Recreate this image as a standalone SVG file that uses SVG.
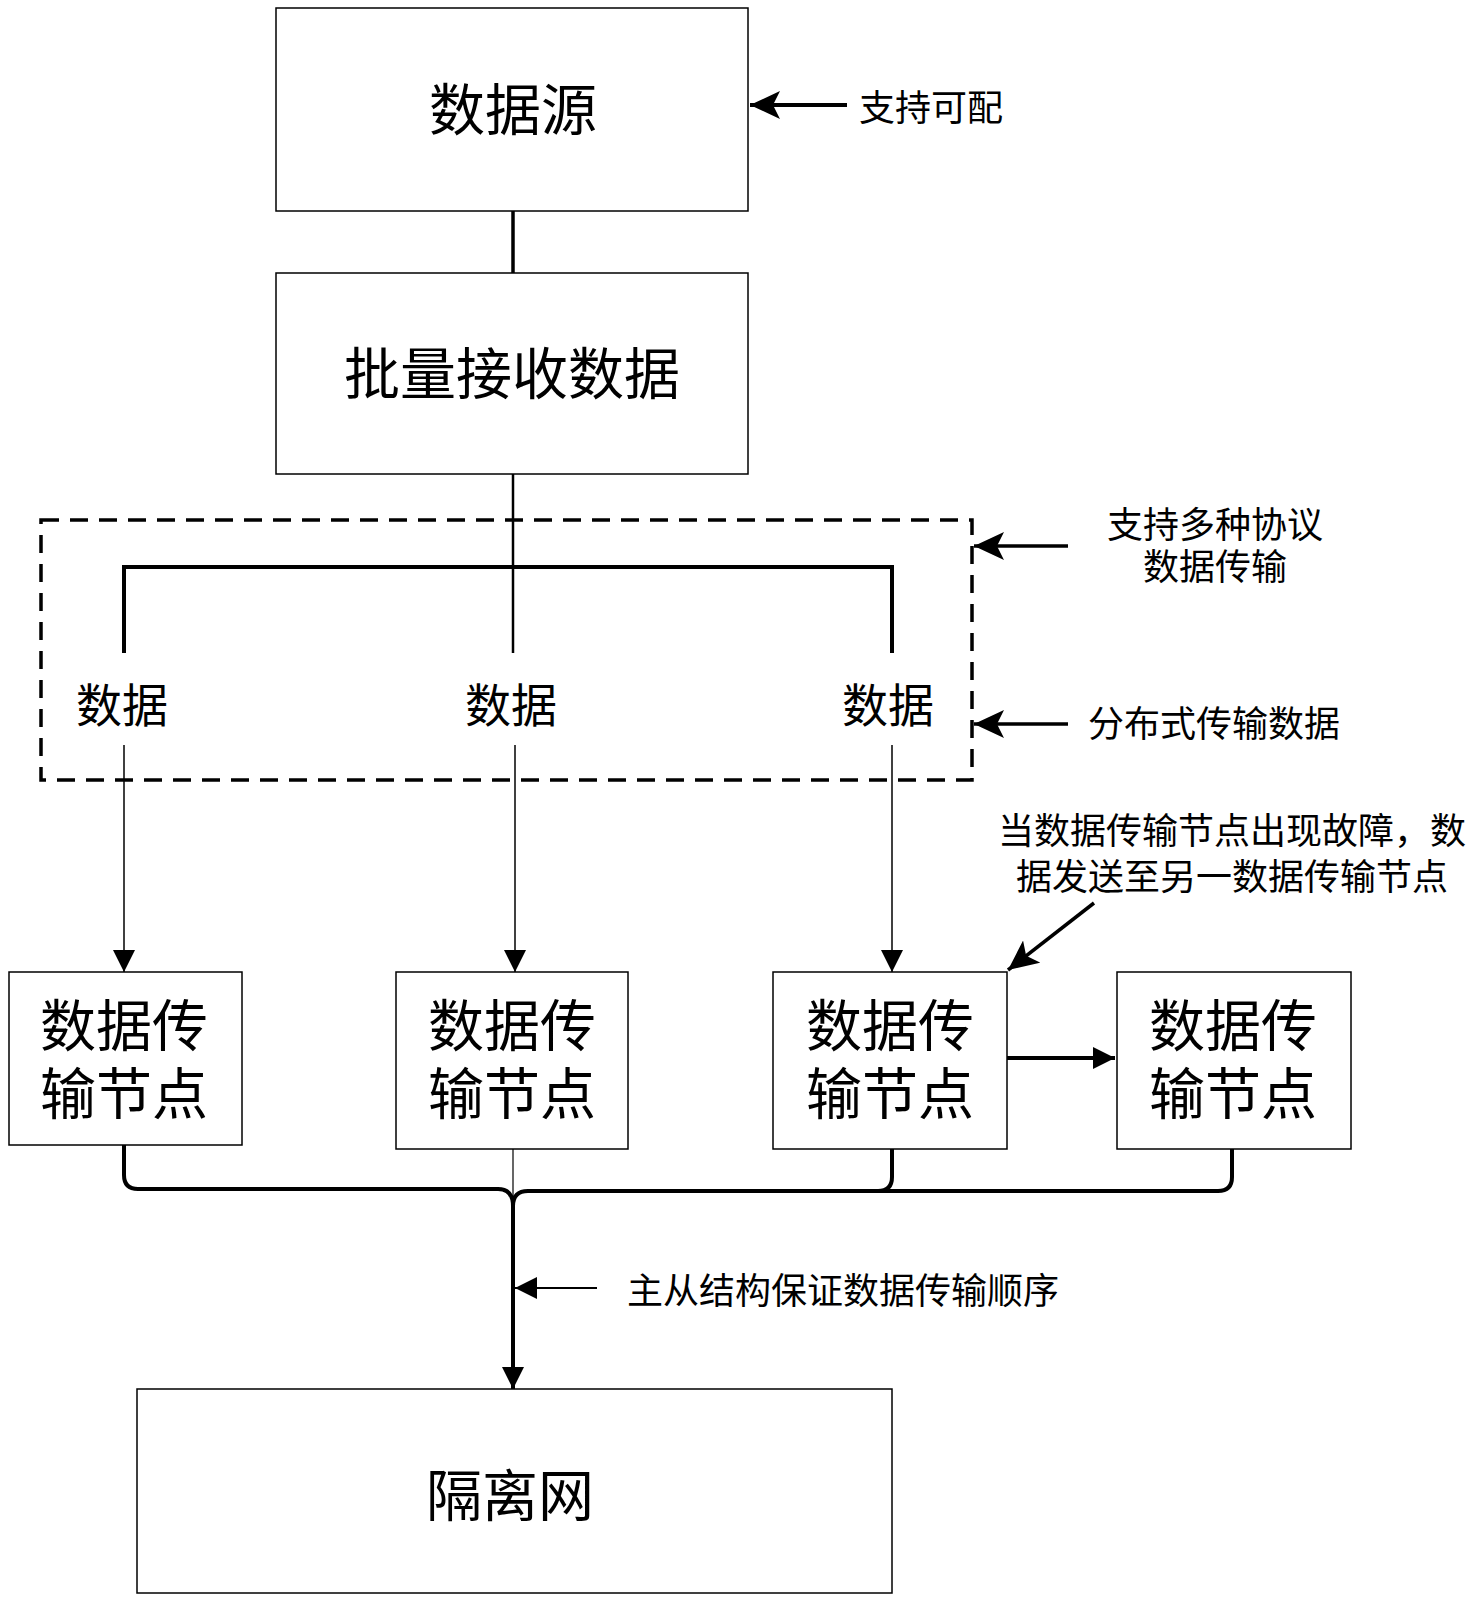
<svg xmlns="http://www.w3.org/2000/svg" width="1480" height="1599" viewBox="0 0 1480 1599">
<style>
.box{fill:#fff;stroke:#000;stroke-width:1.5}
.t{font-family:"Noto Sans CJK SC","Noto Sans CJK JP",sans-serif;fill:#000;text-anchor:middle;dominant-baseline:central}
.big{font-size:56px}
.mid{font-size:46px}
.sm{font-size:36px}
.ln{fill:none;stroke:#000}
</style>
<defs>
<marker id="aTri" markerUnits="userSpaceOnUse" markerWidth="22" markerHeight="22" refX="22" refY="11" viewBox="0 0 22 22" orient="auto"><path d="M0,0 L22,11 L0,22 Z" fill="#000"/></marker>
<marker id="aBig" markerUnits="userSpaceOnUse" markerWidth="30" markerHeight="28" refX="30" refY="14" viewBox="0 0 30 28" orient="auto"><path d="M0,0 L30,14 L0,28 L7,14 Z" fill="#000"/></marker>
</defs>
<rect width="1480" height="1599" fill="#fff"/>

<g id="connectors">
  <line class="ln" x1="513" y1="211" x2="513" y2="273" stroke-width="3.5"/>
  <line class="ln" x1="513" y1="474" x2="513" y2="653" stroke-width="2.5"/>
  <polyline class="ln" points="124,653 124,567 892,567 892,653" stroke-width="4"/>
  <line class="ln" x1="124" y1="745" x2="124" y2="972" stroke-width="1.5" marker-end="url(#aTri)"/>
  <line class="ln" x1="515" y1="745" x2="515" y2="972" stroke-width="1.5" marker-end="url(#aTri)"/>
  <line class="ln" x1="892" y1="745" x2="892" y2="972" stroke-width="1.5" marker-end="url(#aTri)"/>
  <line class="ln" x1="1007" y1="1058" x2="1115" y2="1058" stroke-width="4" marker-end="url(#aTri)"/>
  <path class="ln" d="M124,1145 L124,1175 Q124,1189 138,1189 L498,1189 Q513,1189 513,1206" stroke-width="4"/>
  <path class="ln" d="M1232,1149 L1232,1177 Q1232,1191 1218,1191 L528,1191 Q513,1191 513,1206" stroke-width="4"/>
  <path class="ln" d="M892,1149 L892,1177 Q892,1191 878,1191" stroke-width="4"/>
  <line class="ln" x1="513" y1="1149" x2="513" y2="1206" stroke-width="1.2"/>
  <line class="ln" x1="513" y1="1204" x2="513" y2="1389" stroke-width="4" marker-end="url(#aTri)"/>
  <line class="ln" x1="847" y1="105" x2="750" y2="105" stroke-width="4" marker-end="url(#aBig)"/>
  <line class="ln" x1="1068" y1="546" x2="974" y2="546" stroke-width="3.5" marker-end="url(#aBig)"/>
  <line class="ln" x1="1068" y1="724" x2="974" y2="724" stroke-width="3.5" marker-end="url(#aBig)"/>
  <line class="ln" x1="1094" y1="903" x2="1008" y2="970" stroke-width="3.5" marker-end="url(#aBig)"/>
  <line class="ln" x1="597" y1="1288" x2="515" y2="1288" stroke-width="2" marker-end="url(#aTri)"/>
</g>

<g id="source">
  <rect class="box" x="276" y="8" width="472" height="203"/>
  <text class="t big" x="513" y="105">数据源</text>
</g>
<g id="batch">
  <rect class="box" x="276" y="273" width="472" height="201"/>
  <text class="t big" x="512" y="369">批量接收数据</text>
</g>
<g id="distributed">
  <rect x="41" y="520" width="931" height="260" fill="none" stroke="#000" stroke-width="3.5" stroke-dasharray="18,11"/>
  <text class="t mid" x="122" y="702">数据</text>
  <text class="t mid" x="511" y="702">数据</text>
  <text class="t mid" x="888" y="702">数据</text>
</g>
<g id="node1">
  <rect class="box" x="9" y="972" width="233" height="173"/>
  <text class="t big" x="124" y="1021">数据传<tspan x="124" dy="68">输节点</tspan></text>
</g>
<g id="node2">
  <rect class="box" x="396" y="972" width="232" height="177"/>
  <text class="t big" x="512" y="1021">数据传<tspan x="512" dy="68">输节点</tspan></text>
</g>
<g id="node3">
  <rect class="box" x="773" y="972" width="234" height="177"/>
  <text class="t big" x="890" y="1021">数据传<tspan x="890" dy="68">输节点</tspan></text>
</g>
<g id="node4">
  <rect class="box" x="1117" y="972" width="234" height="177"/>
  <text class="t big" x="1233" y="1021">数据传<tspan x="1233" dy="68">输节点</tspan></text>
</g>
<g id="isolation">
  <rect class="box" x="137" y="1389" width="755" height="204"/>
  <text class="t big" x="510" y="1491">隔离网</text>
</g>
<g id="labels">
  <text class="t sm" x="931" y="105">支持可配</text>
  <text class="t sm" x="1215" y="522">支持多种协议<tspan x="1215" dy="42">数据传输</tspan></text>
  <text class="t sm" x="1214" y="721">分布式传输数据</text>
  <text class="t sm" x="1232" y="828">当数据传输节点出现故障，数<tspan x="1232" dy="46">据发送至另一数据传输节点</tspan></text>
  <text class="t sm" x="843" y="1288">主从结构保证数据传输顺序</text>
</g>
</svg>
